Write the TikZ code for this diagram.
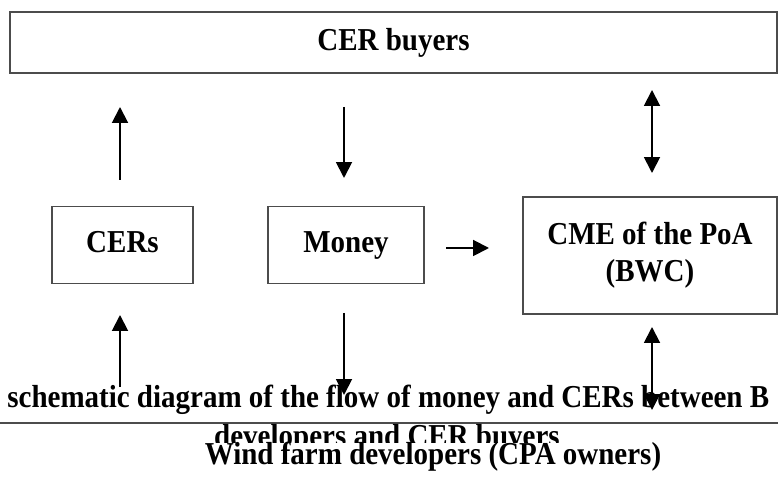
\documentclass[tikz,border=0pt]{standalone}
\usepackage{fontspec}
\setmainfont{Liberation Serif}
\usetikzlibrary{arrows.meta}
\newcommand\tall[1]{\scalebox{1}[1.1]{#1}}
\begin{document}
\begin{tikzpicture}[x=1cm,y=1cm,font=\fontsize{16.5}{16.5}\selectfont\bfseries,
  box/.style={draw=black!70,line width=0.7pt,inner sep=0pt,text height=0.9em,text depth=0pt},
  flow/.style={line width=1.1pt,-{Triangle[width=9pt,length=9pt]}},
  twoway/.style={line width=1.1pt,{Triangle[width=9pt,length=9pt]}-{Triangle[width=9pt,length=9pt]}}]
  \useasboundingbox (0,0) rectangle (15.56,9.62);
  \clip (0,0) rectangle (15.56,9.62);
  % boxes
  \node[box,minimum width=15.34cm,minimum height=1.22cm] (buyers) at (7.87,8.77) {\tall{CER buyers}};
  \node[box,minimum width=2.82cm,minimum height=1.54cm] (cers) at (2.45,4.72) {\tall{CERs}};
  \node[box,minimum width=3.12cm,minimum height=1.54cm] (money) at (6.92,4.72) {\tall{Money}};
  \node[draw=black!70,line width=0.7pt,minimum width=5.08cm,minimum height=2.34cm,align=center,
    font=\fontsize{16.5}{21}\selectfont\bfseries] (cme) at (13.0,4.51) {\tall{CME of the PoA}\\\tall{(BWC)}};
  \draw[draw=black!70,line width=0.7pt] (-0.2,-0.2) rectangle (15.76,1.16);
  % caption lying over the lower box
  \node[anchor=base west,inner sep=0pt] (cap1) at (0.14,1.46) {\tall{schematic diagram of the flow of money and CERs between B}};
  \node[anchor=base,inner sep=0pt] (cap2) at (7.74,0.68) {\tall{developers and CER buyers}};
  \fill[white] (0,0) rectangle (15.56,0.76);
  \node[anchor=base,inner sep=0pt] (owners) at (8.66,0.32) {\tall{Wind farm developers (CPA owners)}};
  % arrow ends
  \coordinate (cersT1) at (2.4,6.02);  \coordinate (cersT2) at (2.4,7.48);
  \coordinate (moneyT1) at (6.88,7.48); \coordinate (moneyT2) at (6.88,6.06);
  \coordinate (cmeT1) at (13.04,7.82); \coordinate (cmeT2) at (13.04,6.16);
  \coordinate (payA) at (8.92,4.66);   \coordinate (payB) at (9.78,4.66);
  \coordinate (cersB1) at (2.4,1.88);  \coordinate (cersB2) at (2.4,3.32);
  \coordinate (moneyB1) at (6.88,3.36); \coordinate (moneyB2) at (6.88,1.72);
  \coordinate (cmeB1) at (13.04,3.08); \coordinate (cmeB2) at (13.04,1.42);
  % arrows
  \draw[flow] (cersT1) -- (cersT2);
  \draw[flow] (moneyT1) -- (moneyT2);
  \draw[twoway] (cmeT1) -- (cmeT2);
  \draw[flow] (payA) -- (payB);
  \draw[flow] (cersB1) -- (cersB2);
  \draw[flow] (moneyB1) -- (moneyB2);
  \draw[twoway] (cmeB1) -- (cmeB2);
\end{tikzpicture}
\end{document}
